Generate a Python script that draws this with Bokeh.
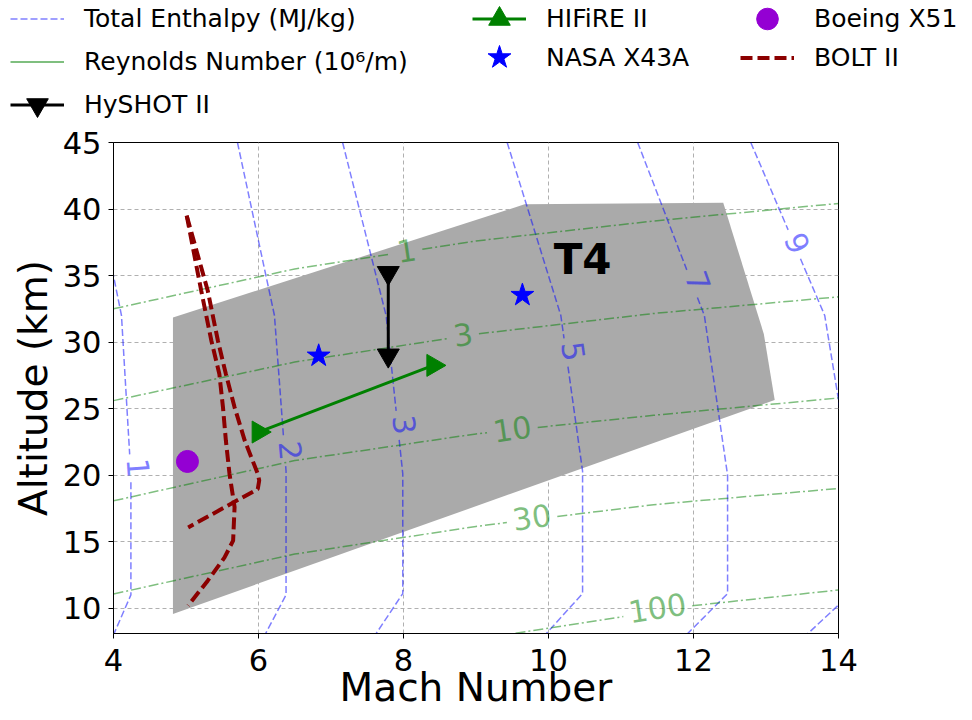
import math
import numpy as np
from bokeh.plotting import figure
from bokeh.layouts import column
from bokeh.models import Range1d, FixedTicker, Legend, LegendItem
from bokeh.core.properties import value
from bokeh.embed import file_html
from bokeh.resources import INLINE

FONT = "DejaVu Sans"

# ---------------- axes ----------------
x_ticks = [4, 6, 8, 10, 12, 14]
y_ticks = [10, 15, 20, 25, 30, 35, 40, 45]
x_lim = (4.0, 14.0)
y_lim = (8.1, 45.0)

# ---------------- Total enthalpy contours (MJ/kg) ----------------
enth_levels = ["1", "2", "3", "5", "7", "9"]
enth1_mach = [3.63, 4.11, 4.24, 4.24, 3.96]
enth1_alt = [45.0, 32.0, 20.0, 11.0, 7.5]
enth2_mach = [5.71, 6.22, 6.38, 6.38, 6.04]
enth2_alt = [45.0, 32.0, 20.3, 11.0, 7.5]
enth3_mach = [7.16, 7.76, 7.99, 7.99, 7.55]
enth3_alt = [45.0, 32.0, 20.1, 11.1, 7.5]
enth5_mach = [9.43, 10.17, 10.47, 10.47, 9.87]
enth5_alt = [45.0, 32.0, 20.3, 11.1, 7.5]
enth7_mach = [11.23, 12.15, 12.47, 12.47, 11.81]
enth7_alt = [45.0, 32.0, 20.0, 11.1, 7.5]
enth9_mach = [12.79, 13.81, 14.17, 14.17, 13.46]
enth9_alt = [45.0, 32.0, 20.0, 11.1, 7.5]
enth_label_mach = [4.34, 6.44, 8.01, 10.34, 12.06, 13.43]
enth_label_alt = [20.54, 21.83, 23.79, 29.30, 34.56, 37.44]
enth_label_angle = [-86, -85, -84, -82, -70, -67]

# ---------------- Reynolds number contours (10^6 / m) ----------------
re_levels = ["1", "3", "10", "30", "100"]
re1_mach = [4.0, 6.5, 7.56, 9.0, 11.45, 14.0]
re1_alt = [32.5, 35.5, 36.4, 37.6, 39.1, 40.42]
re3_mach = [4.0, 6.5, 9.0, 11.45, 14.0]
re3_alt = [25.6, 28.5, 30.6, 32.15, 33.4]
re10_mach = [4.0, 6.5, 9.0, 11.45, 14.0]
re10_alt = [18.07, 21.1, 23.1, 24.5, 25.8]
re30_mach = [4.0, 6.5, 9.0, 11.45, 14.0]
re30_alt = [11.07, 14.07, 16.15, 17.78, 19.0]
re100_mach = [9.3, 10.96, 12.01, 14.0]
re100_alt = [7.92, 9.31, 10.2, 11.37]
re_label_mach = [8.04, 8.82, 9.50, 9.77, 11.50]
re_label_alt = [36.86, 30.55, 23.47, 16.83, 10.02]
re_label_angle = [8.3, 8.1, 8.3, 8.5, 8.7]

# ---------------- T4 envelope ----------------
t4_mach = [4.82, 4.82, 9.67, 12.41, 12.97, 13.12]
t4_alt = [9.57, 31.85, 40.35, 40.47, 30.6, 25.65]
t4_label_mach = [10.47]
t4_label_alt = [36.19]

# ---------------- flight experiments ----------------
hyshot_mach = [7.79, 7.79]
hyshot_alt = [35.2, 29.0]
hifire_mach = [6.0, 8.41]
hifire_alt = [23.24, 28.25]
x43a_mach = [6.83, 9.64]
x43a_alt = [28.97, 33.53]
x51_mach = [5.02]
x51_alt = [21.03]
bolt_a_mach = [5.01, 5.30, 5.44, 5.55, 5.67, 5.81, 5.99, 6.01, 5.99, 5.03]
bolt_a_alt = [39.5, 33.86, 30.1, 27.6, 25.1, 22.6, 20.1, 19.6, 18.96, 16.07]
bolt_b_mach = [5.01, 5.21, 5.35, 5.46, 5.51, 5.55, 5.60, 5.67, 5.65, 5.53, 5.30, 5.03]
bolt_b_alt = [39.5, 33.86, 30.1, 27.6, 25.1, 22.6, 20.1, 17.6, 15.08, 13.8, 12.07, 10.2]

# legend labels
legend_labels = ["Total Enthalpy (MJ/kg)", "Reynolds Number (10\u2076/m)", "HySHOT II",
                 "HIFiRE II", "NASA X43A", "Boeing X51", "BOLT II"]

FRAME_W, FRAME_H = 725, 491
LEGEND_H = 122
SX = FRAME_W / (x_lim[1] - x_lim[0])
SY = FRAME_H / (y_lim[1] - y_lim[0])


def split_at_label(xs, ys, cx, cy, r):
    """Break a polyline where it passes under a label (circle of r pixels)."""
    px = [(x - cx) * SX for x in xs]
    py = [(y - cy) * SY for y in ys]
    ox, oy = [], []
    for i in range(len(xs) - 1):
        ax, ay, bx, by = px[i], py[i], px[i + 1], py[i + 1]
        dx, dy = bx - ax, by - ay
        A = dx * dx + dy * dy
        B = 2 * (ax * dx + ay * dy)
        C = ax * ax + ay * ay - r * r
        ts = [0.0]
        disc = B * B - 4 * A * C
        if A > 0 and disc > 0:
            s = math.sqrt(disc)
            for t in sorted([(-B - s) / (2 * A), (-B + s) / (2 * A)]):
                if 0 < t < 1:
                    ts.append(t)
        ts.append(1.0)
        for j in range(len(ts) - 1):
            t0, t1 = ts[j], ts[j + 1]
            tm = 0.5 * (t0 + t1)
            mx, my = ax + tm * dx, ay + tm * dy
            if mx * mx + my * my < r * r:
                ox.append(np.nan)
                oy.append(np.nan)
            else:
                for t in (t0, t1):
                    ox.append(xs[i] + t * (xs[i + 1] - xs[i]))
                    oy.append(ys[i] + t * (ys[i + 1] - ys[i]))
    return np.array(ox, dtype=float), np.array(oy, dtype=float)


# ---------------- styles ----------------
ENTH_STYLE = dict(line_color="blue", line_alpha=0.5, line_width=1.5, line_dash="7 3")
RE_STYLE = dict(line_color="green", line_alpha=0.5, line_width=1.5, line_dash="10 3 2 3")
RE_LEG_STYLE = dict(line_color="green", line_alpha=0.5, line_width=1.8)
BOLT_STYLE = dict(line_color="darkred", line_width=4, line_dash="12 5")
HYSHOT_LINE = dict(line_color="black", line_width=3)
HYSHOT_MARK = dict(marker="inverted_triangle", size=22, fill_color="black", line_color="black")
HIFIRE_LINE = dict(line_color="green", line_width=3)
HIFIRE_MARK = dict(marker="triangle", size=22, angle=-math.pi / 2,
                   fill_color="green", line_color="green")
X43_MARK = dict(marker="star", size=24, fill_color="blue", line_color="blue")
X51_MARK = dict(marker="circle", size=22, fill_color="darkviolet", line_color="darkviolet")

# ---------------- main figure ----------------
fig = figure(frame_width=FRAME_W, frame_height=FRAME_H,
             x_range=Range1d(*x_lim), y_range=Range1d(*y_lim),
             output_backend="svg", toolbar_location=None,
             min_border_left=113, min_border_right=134,
             min_border_top=20, min_border_bottom=87,
             background_fill_color="white", border_fill_color="white")

fig.outline_line_color = "black"
fig.outline_line_width = 1
fig.xaxis.ticker = FixedTicker(ticks=x_ticks)
fig.yaxis.ticker = FixedTicker(ticks=y_ticks)
fig.xaxis.axis_label = "Mach Number"
fig.yaxis.axis_label = "Altitude (km)"
for ax in (fig.xaxis[0], fig.yaxis[0]):
    ax.axis_line_color = "black"
    ax.major_tick_line_color = "black"
    ax.major_tick_out = 5
    ax.major_tick_in = 0
    ax.minor_tick_out = 0
    ax.minor_tick_in = 0
    ax.major_label_text_font = FONT
    ax.major_label_text_font_size = "30.5px"
    ax.major_label_text_color = "black"
    ax.axis_label_text_font = FONT
    ax.axis_label_text_font_size = "39px"
    ax.axis_label_text_font_style = "normal"
    ax.axis_label_text_color = "black"
fig.xaxis.major_label_standoff = 10
fig.xaxis.axis_label_standoff = -9
fig.yaxis.major_label_standoff = 7
fig.yaxis.axis_label_standoff = 4
fig.grid.grid_line_color = "#b0b0b0"
fig.grid.grid_line_dash = "4 3"
fig.grid.grid_line_width = 1

fig.patch(t4_mach, t4_alt, fill_color="#aaaaaa", line_color=None)

enth_lines = [(enth1_mach, enth1_alt), (enth2_mach, enth2_alt), (enth3_mach, enth3_alt),
              (enth5_mach, enth5_alt), (enth7_mach, enth7_alt), (enth9_mach, enth9_alt)]
for (mx, ay), lab, lx, ly in zip(enth_lines, enth_levels, enth_label_mach, enth_label_alt):
    gx, gy = split_at_label(mx, ay, lx, ly, 9.5 * len(lab) + 6.5)
    fig.line(gx, gy, **ENTH_STYLE)

re_lines = [(re1_mach, re1_alt), (re3_mach, re3_alt), (re10_mach, re10_alt),
            (re30_mach, re30_alt), (re100_mach, re100_alt)]
for (mx, ay), lab, lx, ly in zip(re_lines, re_levels, re_label_mach, re_label_alt):
    gx, gy = split_at_label(mx, ay, lx, ly, 9.5 * len(lab) + 6.5)
    fig.line(gx, gy, **RE_STYLE)

fig.text(x=enth_label_mach, y=enth_label_alt, text=enth_levels, angle=enth_label_angle,
         angle_units="deg", text_font=value(FONT), text_font_size="30.5px",
         text_color="blue", text_alpha=0.5, text_align="center", text_baseline="middle")
fig.text(x=re_label_mach, y=re_label_alt, text=re_levels, angle=re_label_angle,
         angle_units="deg", text_font=value(FONT), text_font_size="30.5px",
         text_color="green", text_alpha=0.5, text_align="center", text_baseline="middle")
fig.text(x=t4_label_mach, y=t4_label_alt, text=["T4"], text_font=value(FONT),
         text_font_size="42px", text_font_style="bold", text_color="black",
         text_align="center", text_baseline="middle")

fig.multi_line([bolt_a_mach, bolt_b_mach], [bolt_a_alt, bolt_b_alt], **BOLT_STYLE)
fig.line(hyshot_mach, hyshot_alt, **HYSHOT_LINE)
fig.scatter(hyshot_mach, hyshot_alt, **HYSHOT_MARK)
fig.line(hifire_mach, hifire_alt, **HIFIRE_LINE)
fig.scatter(hifire_mach, hifire_alt, **HIFIRE_MARK)
fig.scatter(x43a_mach, x43a_alt, **X43_MARK)
fig.scatter(x51_mach, x51_alt, **X51_MARK)

# ---------------- legend strip above the plot ----------------
# The series are re-drawn here on ranges that keep them out of view, so the
# legend has real renderers to take its samples from.
leg = figure(width=972, height=LEGEND_H, x_range=Range1d(100, 101), y_range=Range1d(100, 101),
             x_axis_type=None, y_axis_type=None, output_backend="svg",
             toolbar_location=None, min_border=0, outline_line_color=None,
             background_fill_color="white", border_fill_color="white")
leg.grid.visible = False
for f in (leg, fig):
    try:
        f.frame_align = False
    except Exception:
        pass

l_enth = leg.line(enth1_mach, enth1_alt, **ENTH_STYLE)
l_re = leg.line(re1_mach, re1_alt, **RE_LEG_STYLE)
l_hys_line = leg.line(hyshot_mach, hyshot_alt, **HYSHOT_LINE)
l_hys_mark = leg.scatter(hyshot_mach, hyshot_alt, **HYSHOT_MARK)
l_hif_line = leg.line(hifire_mach, hifire_alt, **HIFIRE_LINE)
l_hif_mark = leg.scatter(hifire_mach, hifire_alt, **HIFIRE_MARK)
l_x43 = leg.scatter(x43a_mach, x43a_alt, **X43_MARK)
l_x51 = leg.scatter(x51_mach, x51_alt, **X51_MARK)
l_bolt = leg.line(bolt_a_mach, bolt_a_alt, **BOLT_STYLE)


def legend_entry(label, renderers, left, center_y, gw=54, gh=55, standoff=20):
    """One legend entry whose sample box starts at `left` and is centred on `center_y` (px)."""
    lg = Legend(items=[LegendItem(label=label, renderers=renderers)],
                location=(left, LEGEND_H - center_y - gh / 2), orientation="vertical",
                glyph_width=gw, glyph_height=gh, spacing=0, padding=0, margin=0,
                label_standoff=standoff, label_text_font=FONT, label_text_font_size="25px",
                label_text_color="black",
                border_line_alpha=0, background_fill_alpha=0)
    leg.add_layout(lg)
    return lg


legend_entry(legend_labels[0], [l_enth], 10, 18.3)
legend_entry(legend_labels[1], [l_re], 10, 61.3)
legend_entry(legend_labels[2], [l_hys_line, l_hys_mark], 10, 104.3)
legend_entry(legend_labels[3], [l_hif_line, l_hif_mark], 472, 18.3)
legend_entry(legend_labels[4], [l_x43], 469, 57.0, gw=60, gh=60, standoff=17)
legend_entry(legend_labels[5], [l_x51], 740, 18.7)
legend_entry(legend_labels[6], [l_bolt], 740, 57.0)

p = column(leg, fig, spacing=0)

open("out.html", "w").write(file_html(p, INLINE))
